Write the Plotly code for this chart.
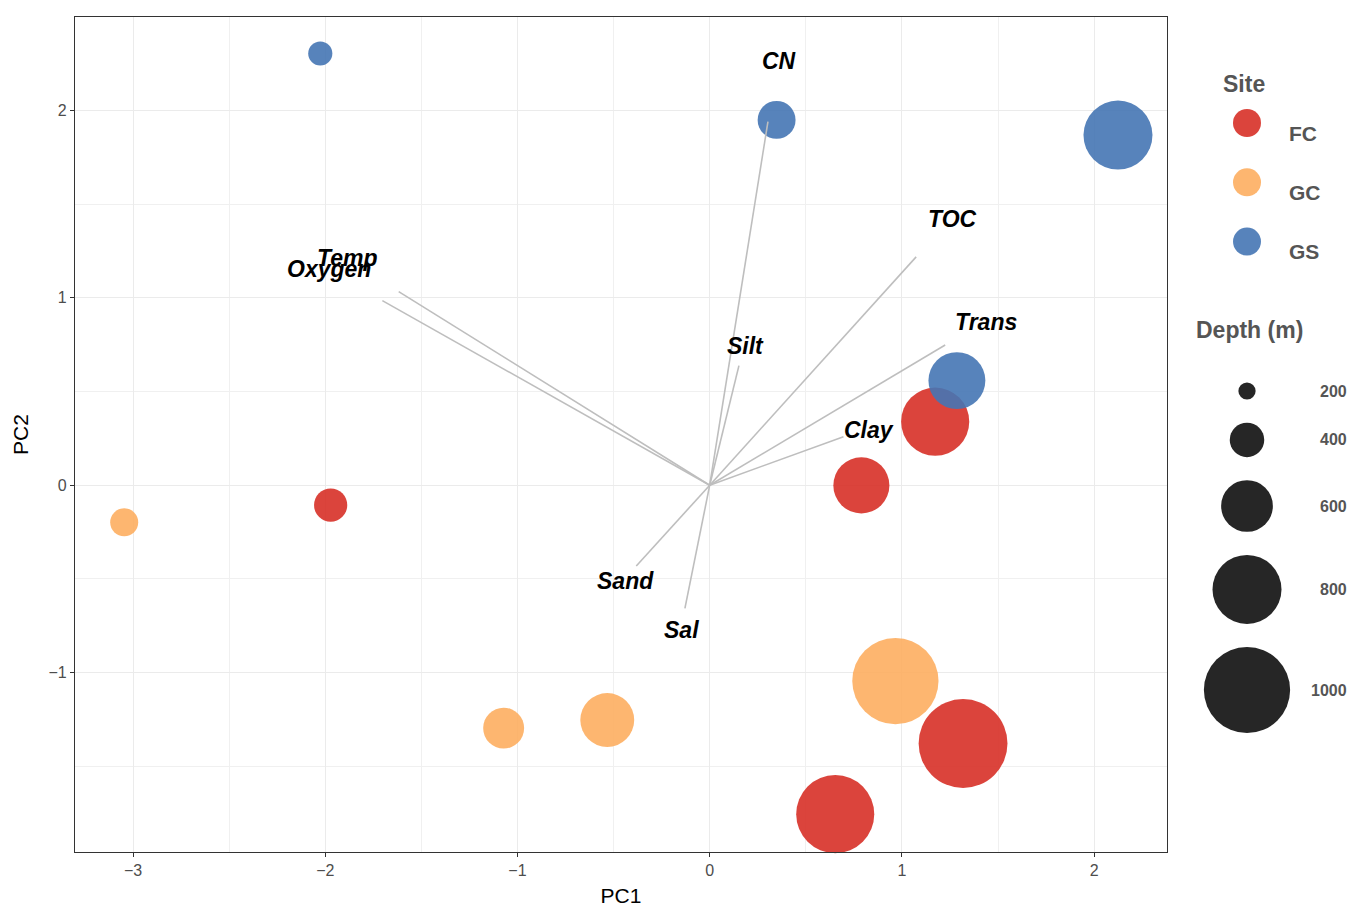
import plotly.graph_objects as go

# ---------------- data ----------------
site = ["FC", "FC", "FC", "FC", "FC", "GC", "GC", "GC", "GC", "GS", "GS", "GS", "GS"]
pc1 = [1.173, 0.789, -1.972, 1.318, 0.653, -3.046, -1.072, -0.533, 0.966, -2.026, 0.348, 2.124, 1.286]
pc2 = [0.339, -0.001, -0.106, -1.378, -1.755, -0.198, -1.296, -1.253, -1.045, 2.303, 1.949, 1.868, 0.558]
depth = [790, 650, 385, 1030, 905, 325, 475, 625, 1000, 280, 440, 800, 660]

variables = ["CN", "TOC", "Trans", "Clay", "Silt", "Sand", "Sal", "Temp", "Oxygen"]
load_pc1 = [0.303, 1.074, 1.225, 0.696, 0.152, -0.382, -0.129, -1.618, -1.703]
load_pc2 = [1.940, 1.218, 0.748, 0.259, 0.638, -0.431, -0.657, 1.033, 0.985]
label_pc1 = [0.361, 1.261, 1.438, 0.829, 0.185, -0.440, -0.148, -1.882, -1.982]
label_pc2 = [2.264, 1.420, 0.871, 0.295, 0.743, -0.511, -0.773, 1.211, 1.154]

site_levels = ["FC", "GC", "GS"]
site_colors = ["#D73027", "#FDAE61", "#4575B4"]
legend_depths = [200, 400, 600, 800, 1000]
x_ticks = [-3, -2, -1, 0, 1, 2]
y_ticks = [-1, 0, 1, 2]

# ---------------- style ----------------
FONT = "Liberation Sans, Arial, sans-serif"
SIZEREF = 1 / 0.08625          # depth -> diameter in px
ALPHA = 0.9
LEG_TXT = "#555555"

W, H = 1354, 907
ML, MR, MT, MB = 75, 0, 17, 55
panel_right = 1167
paper_w = W - ML - MR
main_dom_end = (panel_right - ML) / paper_w
leg_left = 1180
leg_dom_start = (leg_left - ML) / paper_w

fig = go.Figure()

# points
for lvl, col in zip(site_levels, site_colors):
    idx = [i for i, s in enumerate(site) if s == lvl]
    fig.add_trace(go.Scatter(
        x=[pc1[i] for i in idx], y=[pc2[i] for i in idx],
        mode="markers",
        marker=dict(size=[depth[i] for i in idx], sizemode="diameter", sizeref=SIZEREF,
                    color=col, opacity=ALPHA, line=dict(width=0)),
        name=lvl, showlegend=False, hoverinfo="skip", cliponaxis=False))

# loading segments
lx, ly = [], []
for ex, ey in zip(load_pc1, load_pc2):
    lx += [0, ex, None]
    ly += [0, ey, None]
fig.add_trace(go.Scatter(x=lx, y=ly, mode="lines",
                         line=dict(color="#BEBEBE", width=1.6),
                         showlegend=False, hoverinfo="skip"))

annotations = []
for name, tx, ty in zip(variables, label_pc1, label_pc2):
    annotations.append(dict(x=tx, y=ty, xref="x", yref="y", text=f"<b><i>{name}</i></b>",
                            showarrow=False, xanchor="center", yanchor="middle",
                            font=dict(family=FONT, size=23, color="black")))

# ---------------- legends (on an auxiliary pixel-like axis) ----------------
site_title_y = 84
site_first_y = 123
site_step = 59.3
leg_cx = 1247
site_lab_x = 1287
annotations.append(dict(x=1221, y=site_title_y, xref="x2", yref="y2", text="<b>Site</b>",
                        showarrow=False, xanchor="left", yanchor="middle",
                        font=dict(family=FONT, size=23, color=LEG_TXT)))
for k, (lvl, col) in enumerate(zip(site_levels, site_colors)):
    cy = site_first_y + k * site_step
    fig.add_trace(go.Scatter(x=[leg_cx], y=[cy], xaxis="x2", yaxis="y2", mode="markers",
                             marker=dict(size=28, color=col, opacity=ALPHA, line=dict(width=0)),
                             showlegend=False, hoverinfo="skip", cliponaxis=False))
    annotations.append(dict(x=site_lab_x, y=cy + 10, xref="x2", yref="y2", text=f"<b>{lvl}</b>",
                            showarrow=False, xanchor="left", yanchor="middle",
                            font=dict(family=FONT, size=21, color=LEG_TXT)))

annotations.append(dict(x=1194, y=330, xref="x2", yref="y2", text="<b>Depth (m)</b>",
                        showarrow=False, xanchor="left", yanchor="middle",
                        font=dict(family=FONT, size=23, color=LEG_TXT)))
size_gap = 23
diam = [d / SIZEREF for d in legend_depths]
ys = [391]
for a, b in zip(diam[:-1], diam[1:]):
    ys.append(ys[-1] + (a + b) / 2 + size_gap)
fig.add_trace(go.Scatter(x=[leg_cx] * len(legend_depths), y=ys, xaxis="x2", yaxis="y2",
                         mode="markers",
                         marker=dict(size=legend_depths, sizemode="diameter", sizeref=SIZEREF,
                                     color="#262626", opacity=1, line=dict(width=0)),
                         showlegend=False, hoverinfo="skip", cliponaxis=False))
for d, y in zip(legend_depths, ys):
    annotations.append(dict(x=1349, y=y, xref="x2", yref="y2", text=f"<b>{d}</b>",
                            showarrow=False, xanchor="right", yanchor="middle",
                            font=dict(family=FONT, size=16, color=LEG_TXT)))

axis_common = dict(
    showgrid=True, gridcolor="#EBEBEB", gridwidth=1.2,
    zeroline=False, showline=True, linecolor="#333333", linewidth=1.1, mirror=True,
    ticks="outside", ticklen=4, tickwidth=1.1, tickcolor="#333333",
    tickfont=dict(family=FONT, size=16, color="#4D4D4D"),
    minor=dict(dtick=0.5, showgrid=True, gridcolor="#F0F0F0", gridwidth=0.7, ticks=""),
    automargin=False,
)

fig.update_layout(
    width=W, height=H,
    margin=dict(l=ML, r=MR, t=MT, b=MB),
    paper_bgcolor="white", plot_bgcolor="white",
    showlegend=False,
    xaxis=dict(axis_common, domain=[0, main_dom_end], range=[-3.302, 2.379],
               tickvals=x_ticks, anchor="y",
               title=dict(text="PC1", font=dict(family=FONT, size=21, color="black"), standoff=10)),
    yaxis=dict(axis_common, domain=[0, 1], range=[-1.957, 2.498], tickvals=y_ticks, anchor="x",
               title=dict(text="PC2", font=dict(family=FONT, size=21, color="black"), standoff=14)),
    xaxis2=dict(domain=[leg_dom_start, 1], range=[leg_left, W], visible=False, anchor="y2",
                fixedrange=True),
    yaxis2=dict(domain=[0, 1], range=[H - MB, MT], visible=False, anchor="x2", fixedrange=True),
    annotations=annotations,
)

fig.write_html("out.html", config={"displayModeBar": False},
               post_script="document.body.style.margin='0';document.body.style.overflow='hidden';")
